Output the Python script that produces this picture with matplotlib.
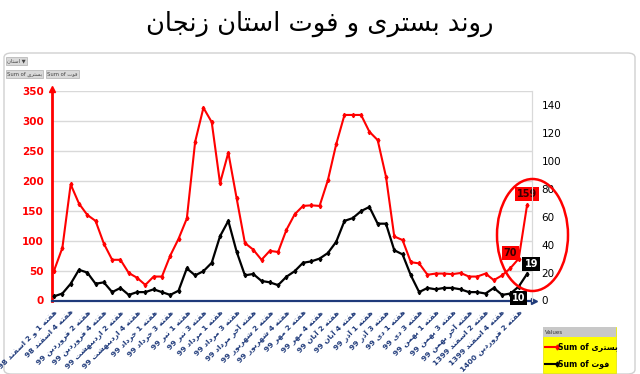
import numpy as np
import matplotlib
matplotlib.use('Agg')
import matplotlib.pyplot as plt
from matplotlib.patches import Ellipse, FancyBboxPatch, Rectangle
from matplotlib.lines import Line2D

plt.rcParams['font.family'] = ['DejaVu Sans']

# ---- data ----
title = 'روند بستری و فوت استان زنجان'
hosp_name = 'بستری'
death_name = 'فوت'
prov_name = 'استان'

hospitalized = [50, 88, 194, 162, 143, 133, 95, 68, 68, 46,
                38, 26, 40, 40, 75, 103, 137, 265, 322, 298,
                196, 247, 171, 96, 85, 68, 83, 81, 118, 144,
                158, 159, 158, 201, 261, 310, 310, 310, 282, 268,
                207, 107, 101, 64, 62, 43, 45, 45, 44, 46,
                40, 40, 45, 34, 42, 54, 70, 159]
deaths = [3, 5, 12, 22, 20, 12, 13, 6, 9, 4,
          6, 6, 8, 6, 4, 7, 23, 18, 21, 27,
          46, 57, 35, 18, 19, 14, 13, 11, 17, 21,
          27, 28, 30, 34, 42, 57, 59, 64, 67, 55,
          55, 36, 33, 18, 6, 9, 8, 9, 9, 8,
          6, 6, 5, 9, 4, 5, 10, 19]
week_labels = [
    'هفته 1 و 2 اسفند 98', 'هفته 4 اسفند 98', 'هفته 2 فروردین 99',
    'هفته 4 فروردین 99', 'هفته 2 اردیبهشت 99', 'هفته 4 اردیبهشت 99',
    'هفته 1 خرداد 99', 'هفته 3 خرداد 99', 'هفته 1 تیر 99', 'هفته 3 تیر 99',
    'هفته 1 مرداد 99', 'هفته 3 مرداد 99', 'هفته آخر مرداد 99',
    'هفته 2 شهریور 99', 'هفته 4 شهریور 99', 'هفته 2 مهر 99', 'هفته 4 مهر 99',
    'هفته 2 آبان 99', 'هفته 4 آبان 99', 'هفته 1 آذر 99', 'هفته 3 آذر 99',
    'هفته 1 دی 99', 'هفته 3 دی 99', 'هفته 1 بهمن 99', 'هفته 3 بهمن 99',
    'هفته آخر بهمن 99', 'هفته 2 اسفند 1399', 'هفته 4 اسفند 1399',
    'هفته 2 فروردین 1400']
left_ticks = [0, 50, 100, 150, 200, 250, 300, 350]
right_ticks = [0, 20, 40, 60, 80, 100, 120, 140]

# ---- small persian shaper (matplotlib has no bidi/shaping) ----
FORMS = {
    'ا': ('\uFE8D', '\uFE8E', None, None),
    'آ': ('\uFE81', '\uFE82', None, None),
    'ب': ('\uFE8F', '\uFE90', '\uFE91', '\uFE92'),
    'ت': ('\uFE95', '\uFE96', '\uFE97', '\uFE98'),
    'ج': ('\uFE9D', '\uFE9E', '\uFE9F', '\uFEA0'),
    'خ': ('\uFEA5', '\uFEA6', '\uFEA7', '\uFEA8'),
    'د': ('\uFEA9', '\uFEAA', None, None),
    'ذ': ('\uFEAB', '\uFEAC', None, None),
    'ر': ('\uFEAD', '\uFEAE', None, None),
    'ز': ('\uFEAF', '\uFEB0', None, None),
    'س': ('\uFEB1', '\uFEB2', '\uFEB3', '\uFEB4'),
    'ش': ('\uFEB5', '\uFEB6', '\uFEB7', '\uFEB8'),
    'ف': ('\uFED1', '\uFED2', '\uFED3', '\uFED4'),
    'م': ('\uFEE1', '\uFEE2', '\uFEE3', '\uFEE4'),
    'ن': ('\uFEE5', '\uFEE6', '\uFEE7', '\uFEE8'),
    'ه': ('\uFEE9', '\uFEEA', '\uFEEB', '\uFEEC'),
    'و': ('\uFEED', '\uFEEE', None, None),
    'ی': ('\uFBFC', '\uFBFD', '\uFBFE', '\uFBFF'),
}


def shape_word(w):
    out = []
    for i, c in enumerate(w):
        if c not in FORMS:
            out.append(c)
            continue
        prev = w[i - 1] if i > 0 else None
        nxt = w[i + 1] if i + 1 < len(w) else None
        jp = prev in FORMS and FORMS[prev][2] is not None
        jn = nxt in FORMS and FORMS[c][2] is not None
        iso, fin, ini, med = FORMS[c]
        out.append(med if (jp and jn) else fin if jp else ini if jn else iso)
    return ''.join(reversed(out))


def fa(text):
    words = text.split(' ')
    res = []
    for w in reversed(words):
        if any(ch in FORMS for ch in w):
            res.append(shape_word(w))
        else:
            res.append(w)
    return ' '.join(res)


# ---- figure ----
fig = plt.figure(figsize=(6.4, 3.74), dpi=100)
W, H = 640.0, 374.0

# chart frame (behind everything)
fig.patches.append(FancyBboxPatch((4 / W, 0.0), 631 / W, (374 - 53) / H,
                                  boxstyle='round,pad=0,rounding_size=0.012',
                                  transform=fig.transFigure, fc='white',
                                  ec='#d0d0d0', lw=1.0, zorder=-10))
fig.text(0.5, 1 - 24 / H, fa(title), ha='center', va='center', fontsize=18.5)

ax = fig.add_axes([52 / W, 1 - 300.5 / H, 480 / W, 209.5 / H])
ax.patch.set_alpha(0)
ax2 = ax.twinx()

x = np.arange(len(hospitalized))
ax.plot(x, hospitalized, color='#ff0000', lw=1.5, marker='d', ms=2.2,
        solid_joinstyle='round', zorder=5)
ax2.plot(x, deaths, color='black', lw=1.6, marker='d', ms=2.2,
         solid_joinstyle='round', zorder=5)

ax.set_xlim(-0.25, 57.6)
ax2.set_xlim(-0.25, 57.6)
ax.set_ylim(0, 350)
ax2.set_ylim(0, 150)

ax.set_yticks(left_ticks)
ax.set_yticklabels([str(t) for t in left_ticks], color='#ff0000',
                   fontsize=7.5, fontweight='bold')
ax2.set_yticks(right_ticks)
ax2.set_yticklabels([str(t) for t in right_ticks], color='black', fontsize=7.5)
ax.tick_params(axis='y', length=0, pad=6)
ax2.tick_params(axis='y', length=0, pad=7)
ax.yaxis.grid(True, color='#d9d9d9', lw=1)
ax.set_axisbelow(True)

ax.set_xticks(x[::2])
ax.set_xticklabels([fa(s) for s in week_labels], rotation=45, ha='right',
                   va='top', rotation_mode='anchor', fontsize=5.4,
                   fontweight='bold', color='#1f3a7a')
ax.tick_params(axis='x', length=0, pad=6)

for a in (ax, ax2):
    a.spines['top'].set_visible(False)
    a.spines['right'].set_color('#d9d9d9')
    a.spines['left'].set_visible(False)
    a.spines['bottom'].set_visible(False)

# red left axis with arrow, navy bottom axis with arrow
ax.plot([0, 0], [0, 1.0], transform=ax.transAxes, color='#ff0000', lw=2,
        clip_on=False, zorder=6)
ax.plot([0], [1.01], transform=ax.transAxes, marker='^', color='#ff0000',
        ms=5, clip_on=False, zorder=6)
ax.plot([0, 1.0], [0, 0], transform=ax.transAxes, color='#1f3a7a', lw=1.6,
        clip_on=False, zorder=6)
ax.plot([1.005], [0], transform=ax.transAxes, marker='>', color='#1f3a7a',
        ms=4, clip_on=False, zorder=6)

# data labels on the last two weeks
kw = dict(textcoords='offset points', ha='center', va='center', fontsize=7,
          fontweight='bold', zorder=10, annotation_clip=False)
ax.annotate(str(hospitalized[-1]), (x[-1], hospitalized[-1]), xytext=(0, 8),
            color='#3a0000', bbox=dict(boxstyle='square,pad=0.2', fc='#ff0000', ec='none'), **kw)
ax.annotate(str(hospitalized[-2]), (x[-2], hospitalized[-2]), xytext=(-6, 4),
            color='#3a0000', bbox=dict(boxstyle='square,pad=0.2', fc='#ff0000', ec='none'), **kw)
ax2.annotate(str(deaths[-1]), (x[-1], deaths[-1]), xytext=(3, 7),
             color='white', bbox=dict(boxstyle='square,pad=0.2', fc='black', ec='none'), **kw)
ax2.annotate(str(deaths[-2]), (x[-2], deaths[-2]), xytext=(0, -8),
             color='white', bbox=dict(boxstyle='square,pad=0.2', fc='black', ec='none'), **kw)

# red ellipse highlight
fig.patches.append(Ellipse((532.5 / W, 1 - 235 / H), 71 / W, 112 / H,
                           transform=fig.transFigure, fill=False,
                           ec='#ff0000', lw=1.8, zorder=20))

# pivot-chart field buttons
btn = dict(boxstyle='square,pad=0.25', fc='#d9d9d9', ec='#b0b0b0', lw=0.5)
fig.text(7 / W, 1 - 61 / H, fa(prov_name) + ' \u25bc', fontsize=3.8,
         va='center', ha='left', color='#444444', bbox=btn)
fig.text(7 / W, 1 - 74 / H, 'Sum of ' + fa(hosp_name), fontsize=3.8,
         va='center', ha='left', color='#444444', bbox=btn)
fig.text(47 / W, 1 - 74 / H, 'Sum of ' + fa(death_name), fontsize=3.8,
         va='center', ha='left', color='#444444', bbox=btn)

# legend box
fig.patches.append(Rectangle((543 / W, 1 - 373 / H), 73 / W, 46 / H,
                             transform=fig.transFigure, fc='#ffff00',
                             ec='#e0e000', lw=0.5, zorder=20))
fig.patches.append(Rectangle((543 / W, 1 - 337 / H), 73 / W, 10 / H,
                             transform=fig.transFigure, fc='#c8c8c8',
                             ec='none', zorder=21))
fig.text(545 / W, 1 - 332 / H, 'Values', fontsize=4, va='center',
         color='#333333', zorder=22)
for yy, col, name in [(347, '#ff0000', hosp_name), (364, 'black', death_name)]:
    fig.lines.append(Line2D([545 / W, 557 / W], [1 - yy / H, 1 - yy / H],
                            transform=fig.transFigure, color=col, lw=1.5,
                            marker='d', ms=2.5, markevery=[1], zorder=22))
    fig.text(558 / W, 1 - yy / H, 'Sum of ' + fa(name), fontsize=5.6,
             fontweight='bold', va='center', color='black', zorder=22)

fig.savefig('out.png', dpi=100)
